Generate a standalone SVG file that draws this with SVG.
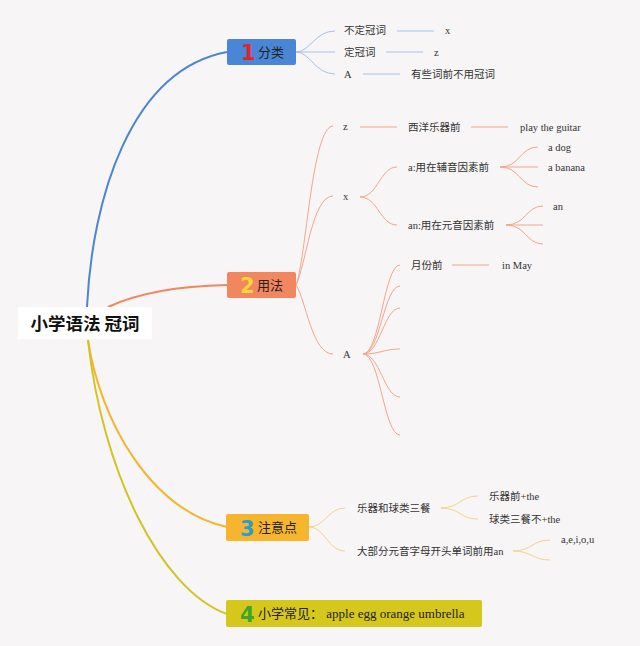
<svg xmlns="http://www.w3.org/2000/svg" width="640" height="646" viewBox="0 0 640 646">
<style>
.t{font-family:"Liberation Serif","Noto Sans CJK SC",serif;font-size:10.5px;fill:#333}
.c{font-family:"Noto Sans CJK SC",sans-serif;font-size:10.5px;fill:#333}
.bt{font-family:"Liberation Serif","Noto Sans CJK SC",serif;font-size:13px;fill:#222}
.num{font-family:"DejaVu Sans",sans-serif;font-weight:bold;font-size:21px}
.main{fill:none;stroke-width:2}
.b1{fill:none;stroke:#a9c2e6;stroke-width:1}
.b2{fill:none;stroke:#f5a68a;stroke-width:1}
.b3{fill:none;stroke:#f3d48a;stroke-width:1}
</style>
<rect width="640" height="646" fill="#f7f5f5"/>
<g id="connectors">
<path class="main" stroke="#4b86d6" d="M87,307 C92,200 130,70 227,52"/>
<path class="main" stroke="#f2865e" d="M108,307 C140,292 180,286 227,285"/>
<path class="main" stroke="#f2b630" d="M88,340 C100,420 150,510 227,527"/>
<path class="main" stroke="#d2c425" d="M88,340 C102,470 160,590 227,614"/>
<!-- branch 1 -->
<path class="b1" d="M296,52 C310,52 315,31 335,31"/>
<path class="b1" d="M296,52 L335,52"/>
<path class="b1" d="M296,52 C310,52 315,74 335,74"/>
<path class="b1" d="M397,31 L434,31"/>
<path class="b1" d="M386,52 L423,52"/>
<path class="b1" d="M363,74 L400,74"/>
<!-- branch 2 -->
<path class="b2" d="M296,285 C306,260 312,126 333,126"/>
<path class="b2" d="M296,285 C306,265 312,196 333,196"/>
<path class="b2" d="M296,285 C306,300 312,354 333,354"/>
<path class="b2" d="M360,127 L397,127"/>
<path class="b2" d="M471,127 L508,127"/>
<path class="b2" d="M360,197 C378,197 380,167 397,167"/>
<path class="b2" d="M360,197 C378,197 380,225 397,225"/>
<path class="b2" d="M500,167 C520,167 520,147 538,147"/>
<path class="b2" d="M500,167 L538,167"/>
<path class="b2" d="M500,167 C520,167 520,187 538,187"/>
<path class="b2" d="M506,225 C526,225 526,206 543,206"/>
<path class="b2" d="M506,225 L543,225"/>
<path class="b2" d="M506,225 C526,225 526,244 543,244"/>
<path class="b2" d="M363,354 C380,354 384,265 400,265"/>
<path class="b2" d="M363,354 C380,354 384,286 400,286"/>
<path class="b2" d="M363,354 C380,354 384,308 400,308"/>
<path class="b2" d="M363,354 C380,354 384,349 400,349"/>
<path class="b2" d="M363,354 C380,354 384,397 400,397"/>
<path class="b2" d="M363,354 C380,354 384,435 400,435"/>
<path class="b2" d="M452,265 L489,265"/>
<!-- branch 3 -->
<path class="b3" d="M309,527 C325,527 328,508 345,508"/>
<path class="b3" d="M309,527 C325,527 328,551 345,551"/>
<path class="b3" d="M441,508 C460,508 460,496 478,496"/>
<path class="b3" d="M441,508 C460,508 460,519 478,519"/>
<path class="b3" d="M513,551 C532,551 532,540 550,540"/>
<path class="b3" d="M513,551 C532,551 532,560 550,560"/>
</g>
<g id="root">
<rect x="18" y="307" width="134" height="32" fill="#ffffff"/>
<text x="85" y="330" text-anchor="middle" font-family="Noto Sans CJK SC,sans-serif" font-weight="bold" font-size="17.5" fill="#111">小学语法 冠词</text>
</g>
<g id="n1">
<rect x="227" y="39" width="69" height="26" rx="2" fill="#4b86d6"/>
<text x="241" y="60" class="num" fill="#e0262a">1</text>
<text x="258" y="57" class="bt">分类</text>
</g>
<g id="n2">
<rect x="227" y="272" width="69" height="26" rx="2" fill="#f2865e"/>
<text x="240" y="293" class="num" fill="#f9d63c">2</text>
<text x="257" y="290" class="bt">用法</text>
</g>
<g id="n3">
<rect x="226" y="514" width="83" height="27" rx="2" fill="#f6b52c"/>
<text x="240" y="536" class="num" fill="#2a9ec8">3</text>
<text x="258" y="532" class="bt">注意点</text>
</g>
<g id="n4">
<rect x="226" y="600" width="256" height="27" rx="2" fill="#d6c71c"/>
<text x="240" y="622" class="num" fill="#3aa82a">4</text>
<text x="258" y="618" class="bt">小学常见：  apple egg orange umbrella</text>
</g>
<g id="b1-children">
<text x="344" y="34" class="c">不定冠词</text>
<text x="445" y="34" class="t">x</text>
<text x="344" y="56" class="c">定冠词</text>
<text x="434" y="56" class="t">z</text>
<text x="344" y="78" class="t">A</text>
<text x="411" y="78" class="c">有些词前不用冠词</text>
</g>
<g id="b2-children">
<text x="343" y="130" class="t">z</text>
<text x="408" y="131" class="c">西洋乐器前</text>
<text x="520" y="131" class="t">play the guitar</text>
<text x="343" y="200" class="t">x</text>
<text x="408" y="171" class="t">a:用在辅音因素前</text>
<text x="548" y="151" class="t">a dog</text>
<text x="548" y="171" class="t">a banana</text>
<text x="408" y="229" class="t">an:用在元音因素前</text>
<text x="553" y="210" class="t">an</text>
<text x="343" y="358" class="t">A</text>
<text x="411" y="269" class="c">月份前</text>
<text x="502" y="269" class="t">in May</text>
</g>
<g id="b3-children">
<text x="357" y="512" class="c">乐器和球类三餐</text>
<text x="489" y="500" class="t">乐器前+the</text>
<text x="489" y="523" class="t">球类三餐不+the</text>
<text x="357" y="555" class="t">大部分元音字母开头单词前用an</text>
<text x="561" y="543" class="t">a,e,i,o,u</text>
</g>
</svg>
